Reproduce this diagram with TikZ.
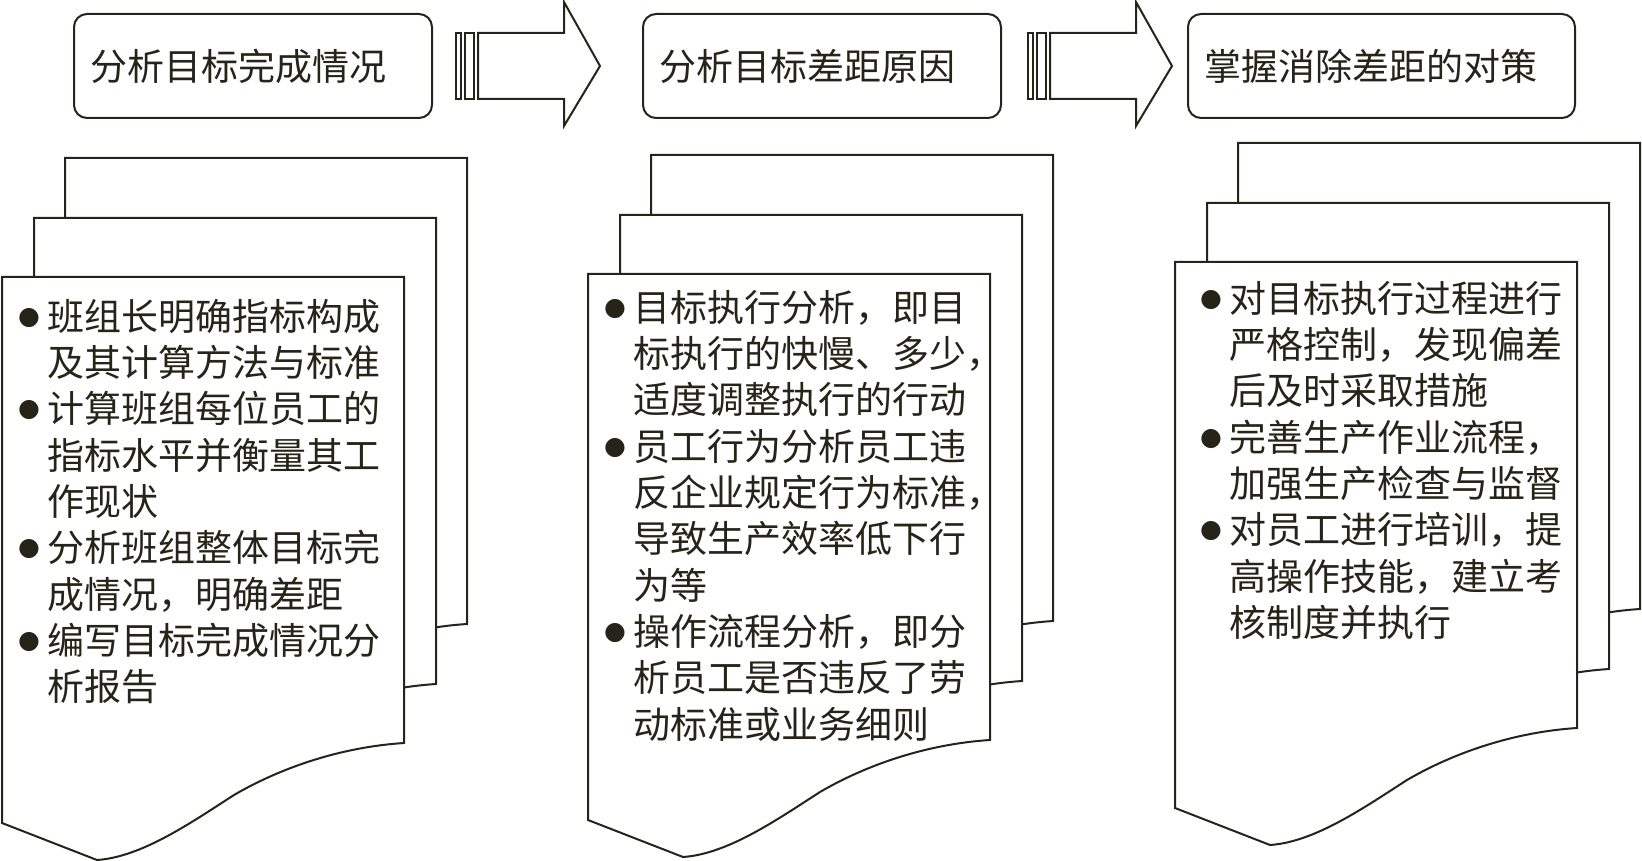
\documentclass[tikz,border=0pt]{standalone}
\usepackage{fontspec}
\setmainfont{Noto Sans CJK SC}
\newfontfamily\symfont{DejaVu Sans}
\definecolor{ink}{RGB}{38,36,24}
\newcommand{\itm}{\makebox[27pt][l]{\hspace*{-2pt}\raisebox{6pt}{\fontsize{25pt}{25pt}\selectfont\symfont ●}}}
\newcommand{\cnt}{\hspace*{27pt}}
\tikzset{
  frame/.style={draw=ink, line width=2pt, line join=miter},
  page/.style={frame, fill=white},
  titlebox/.style={frame, rounded corners=13pt, minimum height=104pt, inner xsep=16pt, inner ysep=0pt,
    align=left, anchor=north west, text=ink, font=\fontsize{37pt}{44pt}\selectfont},
  itemlist/.style={inner sep=0pt, anchor=north west, align=left, text=ink,
    font=\fontsize{37pt}{46.3pt}\selectfont}
}
\begin{document}
\begin{tikzpicture}[x=1pt,y=-1pt]
\useasboundingbox (0,0) rectangle (1642,861);

% Step titles
\node[titlebox, text width=326pt] (step1) at (73,13) {分析目标完成情况};
\node[titlebox, text width=326pt] (step2) at (642,13) {分析目标差距原因};
\node[titlebox, text width=355pt] (step3) at (1187,13) {掌握消除差距的对策};

% Block arrows between the steps
\foreach \shiftx in {0,572} {
  \begin{scope}[xshift=\shiftx]
    \draw[frame] (456,33) rectangle (461,99);
    \draw[frame] (465,33) rectangle (474,99);
    \draw[frame] (478,33) -- (564,33) -- (564,2) -- (600,66) -- (564,126) -- (564,99) -- (478,99) -- cycle;
  \end{scope}
}

% Stacked document pages (back to front)
\foreach \x/\y in {65/158, 651/155, 1238/143} {
  \foreach \dx/\dy in {0/0, -31/60, -63/119} {
    \draw[page, shift={(\x+\dx,\y+\dy)}] (0,0) -- (402,0) -- (402,466)
      .. controls (340,470) and (280,490) .. (232,518)
      .. controls (190,545) and (140,580) .. (95,583) -- (0,546) -- cycle;
  }
}

% Contents of the front pages
\node[itemlist] (list1) at (20,299) {\itm 班组长明确指标构成\\
\cnt 及其计算方法与标准\\
\itm 计算班组每位员工的\\
\cnt 指标水平并衡量其工\\
\cnt 作现状\\
\itm 分析班组整体目标完\\
\cnt 成情况，明确差距\\
\itm 编写目标完成情况分\\
\cnt 析报告};

\node[itemlist] (list2) at (606,290) {\itm 目标执行分析，即目\\
\cnt 标执行的快慢、多少，\\
\cnt 适度调整执行的行动\\
\itm 员工行为分析员工违\\
\cnt 反企业规定行为标准，\\
\cnt 导致生产效率低下行\\
\cnt 为等\\
\itm 操作流程分析，即分\\
\cnt 析员工是否违反了劳\\
\cnt 动标准或业务细则};

\node[itemlist] (list3) at (1202,281) {\itm 对目标执行过程进行\\
\cnt 严格控制，发现偏差\\
\cnt 后及时采取措施\\
\itm 完善生产作业流程，\\
\cnt 加强生产检查与监督\\
\itm 对员工进行培训，提\\
\cnt 高操作技能，建立考\\
\cnt 核制度并执行};
\end{tikzpicture}
\end{document}
